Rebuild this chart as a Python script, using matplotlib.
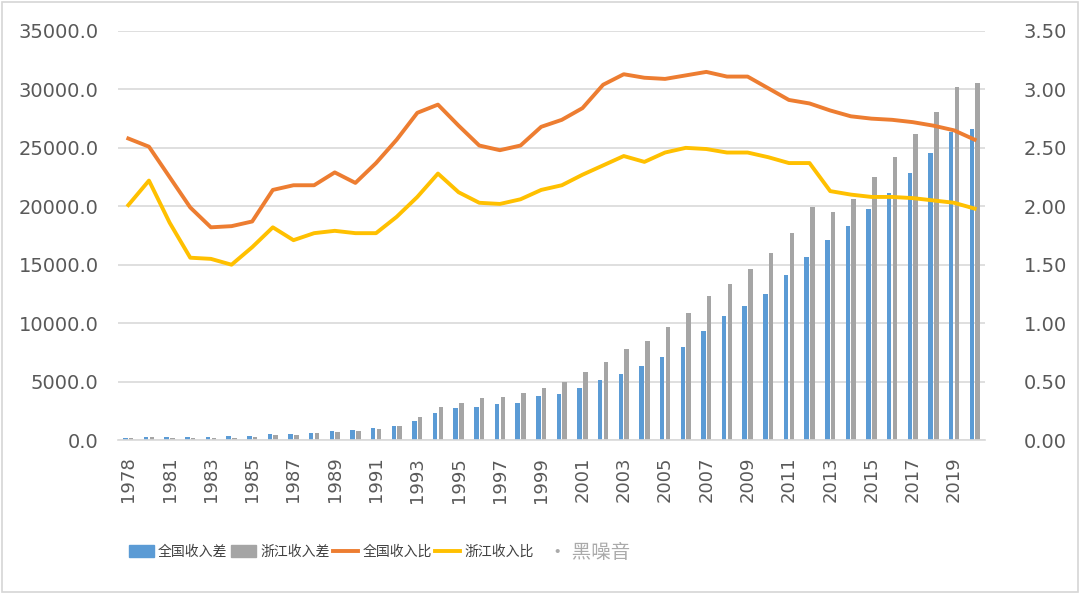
import matplotlib.pyplot as plt
from matplotlib.patches import Patch, Rectangle
from matplotlib.lines import Line2D
import numpy as np

plt.rcParams['font.family'] = ['Noto Sans CJK SC', 'DejaVu Sans']

# 年份 (1979 缺失)
years = [1978] + list(range(1980, 2021))

# 城乡收入差 (元)
cha_quanguo = [210, 290, 280, 265, 255, 300, 340, 480, 540, 640,
               770, 830, 1000, 1240, 1650, 2300, 2740, 2850, 3080, 3170,
               3770, 3920, 4450, 5140, 5650, 6340, 7100, 7960, 9330, 10610,
               11470, 12500, 14120, 15670, 17120, 18320, 19770, 21140, 22860, 24570,
               26370, 26620]
cha_zhejiang = [170, 260, 200, 150, 140, 170, 260, 400, 470, 600,
                700, 780, 900, 1180, 1970, 2830, 3170, 3590, 3680, 4020,
                4450, 4970, 5820, 6680, 7790, 8470, 9680, 10870, 12330, 13350,
                14640, 16000, 17720, 19950, 19520, 20630, 22510, 24230, 26190, 28080,
                30220, 30560]

# 城乡收入比
bi_quanguo = [2.58, 2.51, 2.25, 1.99, 1.82, 1.83, 1.87, 2.14, 2.18, 2.18,
              2.29, 2.20, 2.37, 2.57, 2.80, 2.87, 2.69, 2.52, 2.48, 2.52,
              2.68, 2.74, 2.84, 3.04, 3.13, 3.10, 3.09, 3.12, 3.15, 3.11,
              3.11, 3.01, 2.91, 2.88, 2.82, 2.77, 2.75, 2.74, 2.72, 2.69,
              2.65, 2.57]
bi_zhejiang = [2.01, 2.22, 1.86, 1.56, 1.55, 1.50, 1.65, 1.82, 1.71, 1.77,
               1.79, 1.77, 1.77, 1.91, 2.08, 2.28, 2.12, 2.03, 2.02, 2.06,
               2.14, 2.18, 2.27, 2.35, 2.43, 2.38, 2.46, 2.50, 2.49, 2.46,
               2.46, 2.42, 2.37, 2.37, 2.13, 2.10, 2.08, 2.08, 2.07, 2.05,
               2.03, 1.98]

blue = '#5B9BD5'
gray = '#A5A5A5'
orange = '#ED7D31'
yellow = '#FFC000'
txt = '#595959'

fig = plt.figure(figsize=(10.8, 5.94), dpi=100)
ax = fig.add_axes([118 / 1080, 1 - 440 / 594, (985 - 118) / 1080, (440 - 31) / 594])

x = np.arange(len(years))
w = 0.22
ax.bar(x - 0.14, cha_quanguo, width=w, color=blue, zorder=2)
ax.bar(x + 0.14, cha_zhejiang, width=w, color=gray, zorder=2)

ax.set_xlim(-0.5, len(years) - 0.5)
ax.set_ylim(0, 35000)
ax.set_yticks(np.arange(0, 35001, 5000))
ax.set_yticklabels([f'{v:.1f}' for v in np.arange(0, 35001, 5000)],
                   family='DejaVu Sans', fontsize=14, color=txt)
ax.set_xticks(x[::2])
ax.set_xticklabels([str(y) for y in years[::2]], rotation=90,
                   family='DejaVu Sans', fontsize=13, color=txt)
ax.tick_params(axis='x', length=0, pad=12)
ax.tick_params(axis='y', length=0, pad=14)
ax.grid(axis='y', color='#d9d9d9', linewidth=1.2, zorder=0)
for s in ['top', 'left', 'right']:
    ax.spines[s].set_visible(False)
ax.spines['bottom'].set_color('#d9d9d9')
ax.spines['bottom'].set_linewidth(1.2)

ax2 = ax.twinx()
ax2.plot(x, bi_quanguo, color=orange, linewidth=2.8, zorder=3)
ax2.plot(x, bi_zhejiang, color=yellow, linewidth=2.8, zorder=3)
ax2.set_ylim(0, 3.5)
ax2.set_yticks(np.arange(0, 3.51, 0.5))
ax2.set_yticklabels([f'{v:.2f}' for v in np.arange(0, 3.51, 0.5)],
                    family='DejaVu Sans', fontsize=14, color=txt)
ax2.tick_params(axis='y', length=0, pad=28)
for s in ax2.spines.values():
    s.set_visible(False)

handles = [Patch(color=blue), Patch(color=gray),
           Line2D([], [], color=orange, linewidth=2.8),
           Line2D([], [], color=yellow, linewidth=2.8)]
labels = ['全国收入差', '浙江收入差', '全国收入比', '浙江收入比']
fig.legend(handles, labels, loc='center left', bbox_to_anchor=(129 / 1080, 1 - 552 / 594),
           ncol=4, frameon=False, fontsize=10, handlelength=1.8, handleheight=0.9,
           handletextpad=0.3, columnspacing=0.25, labelcolor='#404040',
           borderaxespad=0, borderpad=0)

fig.text(548 / 1080, 1 - 552 / 594, '· 黑噪音', fontsize=14, color='#aaaaaa', va='center')

fig.patches.append(Rectangle((0.002, 0.004), 0.996, 0.992, transform=fig.transFigure,
                             fill=False, edgecolor='#d6d6d6', linewidth=1.2))

fig.savefig('out.png', dpi=100)
